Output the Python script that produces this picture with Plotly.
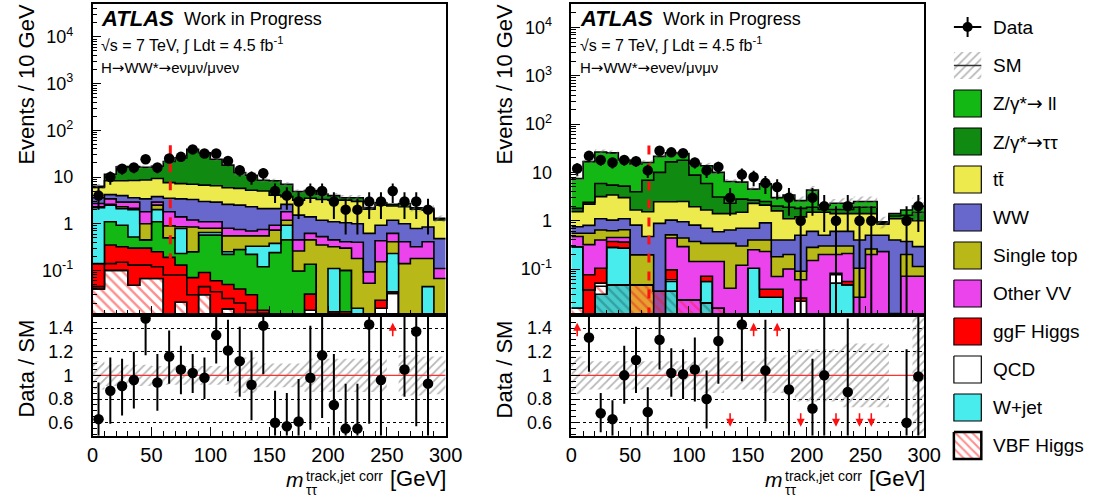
import numpy as np
import plotly.graph_objects as go

W, H = 1107, 497
FONT = "Liberation Sans, Arial, sans-serif"
FLOOR = 1e-3

edges = list(range(0, 310, 10))
centers = [e + 5 for e in edges[:-1]]
cut_x = 66

# ---------------- left panel: H->WW*->evmv/mvev ----------------
L_vbf  = [.04,.10,.10,.048,.067, .067,0,.021,0,.03, 0,.015,0,0,0, 0,0,0,0,0, 0,0,0,0,0, 0,0,0,0,0]
L_qcd  = [0,0,0,0,0, 0,0,0,0,0, 0,0,0,0,0, 0,0,0,.014,0, 0,0,0,0,.0155, .032,0,0,0,0]
L_ggf2 = [.005,.04,.05,.082,.063, .053,.08,.059,.03,.015, .035,.01,.02,.014,.012, 0,0,0,0,0, 0,0,0,0,0, 0,0,0,0,0]
L_ggf  = [.095,.21,.17,.17,.17, .13,.11,.05,.04,.045, .025,.025,.02,.016,.002, 0,0,0,.017,0, .013,.013,0,0,.0075, .003,0,0,0,0]
L_zll  = [0,.75,.61,.22,.15, .85,.31,.10,.18,.48, .51,.17,.24,.19,.106, .24,.45,.097,.104,0, 0,.087,0,0,0, 0,0,0,0,0]
L_wjet = [2.06,1.4,1.17,1.48,0, .9,0,.56,0,.08, .08,.03,0,.11,.21, .14,.48,0,0,0, .097,0,.0155,0,0, .195,0,0,.045,0]
L_stop = [.1,.1,.2,.15,.55, .5,.4,.07,.6,.15, .15,.3,.27,.22,.22, .35,.26,.163,.315,.35, .21,.2,.165,.053,.13, .18,.14,.18,.135,.067]
L_ovv  = [.4,.8,.6,.75,.8, .4,.9,.54,.35,.3, .3,.25,.2,.15,.2, .2,.61,.19,.17,.18, .13,.11,.22,.04,.277, .21,.27,.14,.23,.043]
L_ww   = [.9,.8,1.1,.7,1.6, .9,1.7,2.0,2.1,1.9, 1.8,1.8,1.75,1.6,1.35, 1.17,.8,1.08,.78,.66, .65,.64,.6,.527,.5, .57,.59,.47,.44,.37]
L_tt   = [2.4,4.1,4.3,4.8,5.2, 5.5,4.1,3.8,3.7,3.7, 3.6,3.3,3.2,2.9,2.9, 2.0,1.2,1.67,2.1,2.11, 2.1,2.15,2.0,1.43,1.57, 1.21,1.3,1.26,1.1,.72]
L_ztt  = [.3,3.2,8.2,8.3,7.6, 7.7,13.9,18.5,32,26.3, 17.5,12.1,6.8,5.7,3.5, 4.2,3.2,1.7,1.6,1.0, .8,.4,.6,.15,.3, .2,.4,.15,.2,.1]
L_data = [4,10,15,16,24, 16,25,27,39,32, 32,22,14,10,12, 5,4,3,5,5, 3,2,2,3,3, 5,3,3,2,0]
L_unc  = [.12,.09,.09,.09,.09, .08,.08,.08,.08,.08, .08,.08,.15,.15,.1, .1,.1,.1,.14,.14, .14,.14,.14,.14,.14, 0,.17,.17,.16,.16]
L_ratio    = [.63,.87,.91,.96,1.48, .94,1.16,1.05,1.02,.98, 1.34,1.21,1.12,.92,1.42, .60,.57,.61,.98,1.17, .75,.55,.55,1.43,.96, None,1.05,1.37,.93,None]
L_ratio_hi = [.94,1.15,1.14,1.20,1.51, 1.18,1.38,1.25,1.18,1.15, 1.51,1.47,1.41,1.21,1.51, .87,.85,.97,1.42,1.51, 1.18,.93,.93,1.51,1.51, None,1.51,1.51,1.51,None]
L_ratio_lo = [.49,.59,.66,.72,1.17, .70,.93,.84,.85,.80, 1.10,.95,.82,.62,1.01, .49,.49,.49,.54,.64, .49,.49,.49,.59,.49, None,.82,.57,.49,None]
L_arrow_up = [25]
L_arrow_down = []
L_cut_y = [48, 0.18]

# ---------------- right panel: H->WW*->eveν/μνμν ----------------
R_hcyan   = [0,0,.03,.047,.047, 0,0,0,.035,0, 0,.02,0,0,0, 0,0,0,0,0, 0,0,0,0,0, 0,0,0,0,0]
R_horange = [0,0,0,0,0, .047,.047,0,0,0, 0,0,0,0,0, 0,0,0,0,0, 0,0,0,0,0, 0,0,0,0,0]
R_hpurple = [0,0,0,0,0, 0,0,.035,0,0, 0,0,0,0,0, 0,0,0,0,0, 0,0,0,0,0, 0,0,0,0,0]
R_hmag    = [0,0,0,0,0, 0,0,0,0,.023, .023,0,.0155,0,0, 0,0,0,0,0, 0,0,0,0,0, 0,0,0,0,0]
R_vbf  = [.0156,0,.014,0,0, 0,0,0,0,0, 0,0,0,0,0, 0,0,0,0,0, 0,0,0,0,0, 0,0,0,0,0]
R_ggf2 = [0,.037,0,0,0, 0,0,0,0,0, 0,0,0,0,0, 0,0,0,0,0, 0,0,0,0,0, 0,0,0,0,0]
R_wjet = [.274,0,0,.233,.223, 0,0,0,.02,0, 0,.035,0,0,0, .104,.026,.026,0,0, 0,0,.051,.047,0, 0,0,0,0,0]
R_qcd  = [0,0,.007,0,0, 0,0,0,.005,0, 0,0,0,0,0, 0,0,0,0,.0215, 0,0,.025,0,0, 0,0,0,0,0]
R_ggf  = [0,.039,.053,.09,.09, 0,0,0,.036,0, 0,.016,0,0,0, 0,.012,.012,0,.0035, 0,0,.006,.008,0, 0,0,0,0,0]
R_ovv  = [.18,.244,.296,.08,.09, 0,0,0,.344,.267, .12,.072,.1275,.04,.12, .146,.192,.032,.1,.035, .15,.2,.118,.155,.026, .2,.23,0,.071,.071]
R_stop = [.08,.23,.24,.17,.2, .149,.149,0,.07,.15, .227,.197,.197,.3,.18, .15,.17,.11,.1,.03, .13,.1,.1,.09,.078, .06,0,.012,.129,.042]
R_ww   = [.2,.25,.46,.41,.45, .614,.274,.845,.52,.51, .44,.36,.25,.3,.4, .3,.5,.22,.2,.41, .32,.2,.3,.3,.296, .24,.27,.388,.17,.177]
R_tt   = [.79,1.4,2.05,2.37,1.9, .85,1.06,1.59,1.44,1.55, 1.14,.96,.81,.76,.8, 1.58,1.2,1.2,.7,.7, .9,1.0,.8,.8,1.0, .9,.35,.7,.73,.71]
R_ztt  = [.26,.2,2.75,2.05,2.2, 2.31,5.37,7.53,14.03,15.3, 6.85,4.24,1.7,.9,1.3, .39,.4,.4,.8,.6, .4,.2,.3,.3,.5, .5,.05,.15,.2,.5]
R_zll  = [5.7,14.3,20.6,19.95,12.8, 11.03,9.1,11.5,9,6.9, 6.4,7.85,6.9,4.2,3.5, 1.83,3.3,1.0,1.5,.8, 2.4,.4,.6,.6,.6, .6,.05,.15,.37,.5]
R_data = [12,22,18,16,18, 17,11,28,26,25, 16,11,13,3,9, 8,6,5,3,1, 3,2,1,2,1, 1,0,0,1,2]
R_unc  = [.16,.12,.12,.12,.12, .12,.12,.12,.12,.12, .12,.15,.15,.12,.12, .12,.15,.15,.17,.22, .22,.22,.22,.27,.27, .27,.27,0,0,.5]
R_ratio    = [None,1.32,.68,.63,1.0, 1.13,.69,1.3,1.02,1.01, 1.05,.8,1.29,None,1.43, None,1.04,None,.88,None, .72,1.0,None,.86,None, None,None,None,.6,.99]
R_ratio_hi = [None,1.51,.85,.79,1.25, 1.41,.9,1.51,1.23,1.22, 1.32,1.04,1.51,None,1.51, None,1.47,None,1.4,None, 1.14,1.51,None,1.48,None, None,None,None,1.22,1.51]
R_ratio_lo = [None,1.03,.52,.49,.76, .85,.49,1.05,.82,.8, .78,.55,.93,None,.95, None,.61,None,.49,None, .49,.49,None,.49,None, None,None,None,.49,.49]
R_arrow_up = [0, 15, 17]
R_arrow_down = [13, 19, 22, 24, 25]
R_cut_y = [36, 0.011]

# ---------------- colours ----------------
C_ZLL, C_ZTT, C_TT = "#14b814", "#108a10", "#ecea4c"
C_WW, C_STOP, C_OVV = "#6868cc", "#b8b818", "#ec44ec"
C_GGF, C_QCD, C_WJET = "#ff0000", "#ffffff", "#48ecec"


def hatch(fg, bg, shape="\\", size=7, sol=0.35):
    return dict(shape=shape, fgcolor=fg, bgcolor=bg, size=size, solidity=sol)


L_layers = [
    ("VBF Higgs", L_vbf, "#ffffff", hatch("#ff2020", "#ffffff")),
    ("QCD", L_qcd, C_QCD, None),
    ("ggF Higgs", L_ggf2, C_GGF, None),
    ("ggF Higgs", L_ggf, C_GGF, None),
    ("Z/γ*→ ll", L_zll, C_ZLL, None),
    ("W+jet", L_wjet, C_WJET, None),
    ("Single top", L_stop, C_STOP, None),
    ("Other VV", L_ovv, C_OVV, None),
    ("WW", L_ww, C_WW, None),
    ("tt̄", L_tt, C_TT, None),
    ("Z/γ*→ττ", L_ztt, C_ZTT, None),
]
R_layers = [
    ("VBF Higgs", R_hcyan, "#46caca", hatch("#1d7a7a", "#46caca")),
    ("VBF Higgs", R_horange, "#e8a030", hatch("#e03020", "#e8a030")),
    ("VBF Higgs", R_hpurple, "#9c4c9c", hatch("#e02040", "#9c4c9c")),
    ("VBF Higgs", R_hmag, "#ec44ec", hatch("#ff2050", "#ec44ec")),
    ("VBF Higgs", R_vbf, "#ffffff", hatch("#ff2020", "#ffffff")),
    ("ggF Higgs", R_ggf2, C_GGF, None),
    ("W+jet", R_wjet, C_WJET, None),
    ("QCD", R_qcd, C_QCD, None),
    ("ggF Higgs", R_ggf, C_GGF, None),
    ("Other VV", R_ovv, C_OVV, None),
    ("Single top", R_stop, C_STOP, None),
    ("WW", R_ww, C_WW, None),
    ("tt̄", R_tt, C_TT, None),
    ("Z/γ*→ττ", R_ztt, C_ZTT, None),
    ("Z/γ*→ ll", R_zll, C_ZLL, None),
]

fig = go.Figure()


def step(v):
    v = list(v)
    return v + [v[-1]]


def add_stack(layers, xa, ya):
    cum = np.zeros(len(centers))
    fig.add_trace(go.Scatter(x=edges, y=step([FLOOR] * len(centers)), mode="lines",
                             line=dict(width=0, color="rgba(0,0,0,0)", shape="hv"),
                             xaxis=xa, yaxis=ya, hoverinfo="skip", showlegend=False))
    for name, vals, col, pat in layers:
        cum = cum + np.array(vals, dtype=float)
        kw = dict(fill="tonexty", fillcolor=col)
        if pat:
            kw["fillpattern"] = pat
        fig.add_trace(go.Scatter(x=edges, y=step(np.maximum(cum, FLOOR)), mode="lines",
                                 line=dict(color="black", width=1.6, shape="hv"),
                                 name=name, xaxis=xa, yaxis=ya, hoverinfo="skip",
                                 showlegend=False, **kw))
    return cum


def add_band(lo, hi, xa, ya):
    fig.add_trace(go.Scatter(x=edges, y=step(lo), mode="lines",
                             line=dict(width=0, color="rgba(0,0,0,0)", shape="hv"),
                             xaxis=xa, yaxis=ya, hoverinfo="skip", showlegend=False))
    fig.add_trace(go.Scatter(x=edges, y=step(hi), mode="lines",
                             line=dict(width=0, color="rgba(0,0,0,0)", shape="hv"),
                             fill="tonexty", fillcolor="rgba(0,0,0,0)",
                             fillpattern=dict(shape="/", fgcolor="#707070", bgcolor="rgba(0,0,0,0)",
                                              size=6, solidity=0.3),
                             xaxis=xa, yaxis=ya, hoverinfo="skip", showlegend=False))


def add_top(layers, data, unc, cut_y, xa, ya):
    tot = add_stack(layers, xa, ya)
    u = np.array(unc)
    add_band(tot * (1 - u), tot * (1 + u), xa, ya)
    fig.add_trace(go.Scatter(x=[cut_x, cut_x], y=cut_y, mode="lines",
                             line=dict(color="#ff1010", width=3, dash="dash"),
                             xaxis=xa, yaxis=ya, hoverinfo="skip", showlegend=False))
    yv = [n if n > 0 else None for n in data]
    up = [np.sqrt(n) if n > 0 else 0 for n in data]
    dn = [min(np.sqrt(n), n - FLOOR) if n > 0 else 0 for n in data]
    fig.add_trace(go.Scatter(x=centers, y=yv, mode="markers",
                             marker=dict(color="black", size=10.5),
                             error_y=dict(type="data", symmetric=False, array=up, arrayminus=dn,
                                          thickness=2, width=0, color="black"),
                             xaxis=xa, yaxis=ya, hoverinfo="skip", showlegend=False))


def add_ratio(ratio, hi, lo, unc, xa, ya):
    u = np.array(unc)
    add_band(1 - u, 1 + u, xa, ya)
    fig.add_trace(go.Scatter(x=[0, 300], y=[1, 1], mode="lines", line=dict(color="#ff3030", width=1.2),
                             xaxis=xa, yaxis=ya, hoverinfo="skip", showlegend=False))
    ep = [(h - r) if r is not None else None for r, h in zip(ratio, hi)]
    em = [(r - l) if r is not None else None for r, l in zip(ratio, lo)]
    fig.add_trace(go.Scatter(x=centers, y=ratio, mode="markers", cliponaxis=False,
                             marker=dict(color="black", size=10.5),
                             error_y=dict(type="data", symmetric=False, array=ep, arrayminus=em,
                                          thickness=2, width=0, color="black"),
                             xaxis=xa, yaxis=ya, hoverinfo="skip", showlegend=False))


add_top(L_layers, L_data, L_unc, L_cut_y, "x", "y")
add_ratio(L_ratio, L_ratio_hi, L_ratio_lo, L_unc, "x2", "y2")
add_top(R_layers, R_data, R_unc, R_cut_y, "x3", "y3")
add_ratio(R_ratio, R_ratio_hi, R_ratio_lo, R_unc, "x4", "y4")

annotations = []
for bins, xr, yr in [(L_arrow_up, "x2", "y2"), (R_arrow_up, "x4", "y4")]:
    for b in bins:
        annotations.append(dict(x=centers[b], y=1.445, xref=xr, yref=yr, ax=0, ay=15, text="",
                                showarrow=True, arrowhead=2, arrowsize=1, arrowwidth=1.6, arrowcolor="#ff1010"))
for bins, xr, yr in [(L_arrow_down, "x2", "y2"), (R_arrow_down, "x4", "y4")]:
    for b in bins:
        annotations.append(dict(x=centers[b], y=0.565, xref=xr, yref=yr, ax=0, ay=-15, text="",
                                showarrow=True, arrowhead=2, arrowsize=1, arrowwidth=1.6, arrowcolor="#ff1010"))


def txt(x, y, text, size, anchor="left", angle=0):
    return dict(x=x / W, y=1 - y / H, xref="paper", yref="paper", text=text, showarrow=False,
                xanchor=anchor, yanchor="middle", textangle=angle, borderpad=0,
                font=dict(size=size, color="black", family=FONT))


ARW = '<span style="font-family:DejaVu Sans">→</span>'
for dx, chan in [(0, "eνμν/μνeν"), (489, "eνeν/μνμν")]:
    annotations += [
        txt(96 + dx, 18, "<b><i>ATLAS</i></b>", 22),
        txt(181 + dx, 19.5, "Work in Progress", 18),
        txt(96 + dx, 44, "√s = 7 TeV, ∫ Ldt = 4.5 fb<sup>-1</sup>", 16),
        txt(96 + dx, 68.5, "H" + ARW + "WW*" + ARW + chan, 15),
        txt(20 + dx, 84, "Events / 10 GeV", 22, "center", -90),
        txt(20 + dx, 369, "Data / SM", 22, "center", -90),
        txt(285 + dx, 479, "<i>m</i>", 21),
        txt(305 + dx, 490, "ττ", 14),
        txt(305 + dx, 476, "track,jet corr", 14),
        txt(391 + dx, 478, "[GeV]", 22),
    ]

# ---------------- legend (drawn on an auxiliary pixel axis) ----------------
legend_entries = [
    ("Z/γ*" + ARW + " ll", C_ZLL, None), ("Z/γ*" + ARW + "ττ", C_ZTT, None), ("tt̄", C_TT, None),
    ("WW", C_WW, None), ("Single top", C_STOP, None), ("Other VV", C_OVV, None),
    ("ggF Higgs", C_GGF, None), ("QCD", C_QCD, None), ("W+jet", C_WJET, None),
    ("VBF Higgs", "#ffffff", hatch("#ff2020", "#ffffff", size=6)),
]
bx0, bx1 = 968, 996
fig.add_trace(go.Scatter(x=[bx0, bx1, None, 982, 982], y=[27, 27, None, 17, 37], mode="lines",
                         line=dict(color="black", width=2), xaxis="x5", yaxis="y5", hoverinfo="skip",
                         showlegend=False))
fig.add_trace(go.Scatter(x=[982], y=[27], mode="markers", marker=dict(color="black", size=10),
                         xaxis="x5", yaxis="y5", hoverinfo="skip", showlegend=False))
annotations.append(txt(1007, 27.5, "Data", 19))
fig.add_trace(go.Scatter(x=[bx0, bx1, bx1, bx0, bx0], y=[52, 52, 79, 79, 52], mode="lines",
                         fill="toself", fillcolor="rgba(0,0,0,0)", line=dict(width=0, color="rgba(0,0,0,0)"),
                         fillpattern=dict(shape="/", fgcolor="#707070", bgcolor="rgba(0,0,0,0)", size=6, solidity=0.3),
                         xaxis="x5", yaxis="y5", hoverinfo="skip", showlegend=False))
fig.add_trace(go.Scatter(x=[bx0, bx1], y=[65.5, 65.5], mode="lines", line=dict(color="#333333", width=1.5),
                         xaxis="x5", yaxis="y5", hoverinfo="skip", showlegend=False))
annotations.append(txt(1007, 65.5, "SM", 19))
for i, (name, col, pat) in enumerate(legend_entries):
    top = 90 + 38 * i
    kw = dict(fill="toself", fillcolor=col)
    if pat:
        kw["fillpattern"] = pat
    fig.add_trace(go.Scatter(x=[bx0, bx1, bx1, bx0, bx0], y=[top, top, top + 27, top + 27, top],
                             mode="lines", line=dict(color="black", width=2.5 if pat else 1.2),
                             xaxis="x5", yaxis="y5", hoverinfo="skip", showlegend=False, **kw))
    annotations.append(txt(1007, top + 13.5, name, 19))

# ---------------- axes ----------------
TOP = [1 - 315 / H, 1 - 4 / H]
BOT = [1 - 435.7 / H, 1 - 315 / H]
LX = [88.5 / W, 449 / W]
RX = [577.3 / W, 937.7 / W]

frame = dict(showline=True, linecolor="black", linewidth=1.5, mirror=True, zeroline=False,
             ticks="inside", tickcolor="black", tickwidth=1.2)
minor_x = dict(dtick=10, ticks="inside", ticklen=5, tickcolor="black", showgrid=False)
logvals = [0.1, 1, 10, 100, 1000, 10000]
logtext = ["10<sup>-1</sup>", "1", "10", "10<sup>2</sup>", "10<sup>3</sup>", "10<sup>4</sup>"]


def xtop(dom, anchor):
    return dict(domain=dom, anchor=anchor, range=[0, 300], dtick=50, tick0=0, ticklen=9,
                showticklabels=False, showgrid=False, minor=minor_x, layer="above traces", **frame)


def xbot(dom, anchor):
    return dict(domain=dom, anchor=anchor, range=[0, 300], dtick=50, tick0=0, ticklen=9,
                showgrid=False, minor=minor_x, tickfont=dict(size=20, family=FONT, color="black"),
                ticklabelstandoff=1, **frame)


def ytop(anchor, rng):
    return dict(domain=TOP, anchor=anchor, type="log", range=rng, tickmode="array",
                tickvals=logvals, ticktext=logtext, ticklen=9, showgrid=False, layer="above traces",
                minor=dict(ticks="inside", ticklen=5, tickcolor="black", dtick="D1", showgrid=False),
                tickfont=dict(size=18, family=FONT, color="black"), ticklabelstandoff=14, **frame)


def ybot(anchor):
    return dict(domain=BOT, anchor=anchor, range=[0.49, 1.51], tickmode="array",
                tickvals=[0.6, 0.8, 1, 1.2, 1.4], ticktext=["0.6", "0.8", "1", "1.2", "1.4"],
                ticklen=9, showgrid=True, gridcolor="black", griddash="dot", gridwidth=1,
                minor=dict(dtick=0.05, tick0=0, ticks="inside", ticklen=5, tickcolor="black", showgrid=False),
                tickfont=dict(size=18, family=FONT, color="black"), ticklabelstandoff=14, **frame)


fig.update_layout(
    width=W, height=H, margin=dict(l=0, r=0, t=0, b=0),
    plot_bgcolor="white", paper_bgcolor="white", showlegend=False,
    font=dict(family=FONT, color="black"),
    xaxis=xtop(LX, "y"), yaxis=ytop("x", [-1.955, 4.705]),
    xaxis2=xbot(LX, "y2"), yaxis2=ybot("x2"),
    xaxis3=xtop(RX, "y3"), yaxis3=ytop("x3", [-1.952, 4.486]),
    xaxis4=xbot(RX, "y4"), yaxis4=ybot("x4"),
    xaxis5=dict(domain=[952 / W, 1], anchor="y5", range=[952, 1107], visible=False),
    yaxis5=dict(domain=[0, 1], anchor="x5", range=[497, 0], visible=False),
    annotations=annotations,
)

fig.write_html("out.html")
